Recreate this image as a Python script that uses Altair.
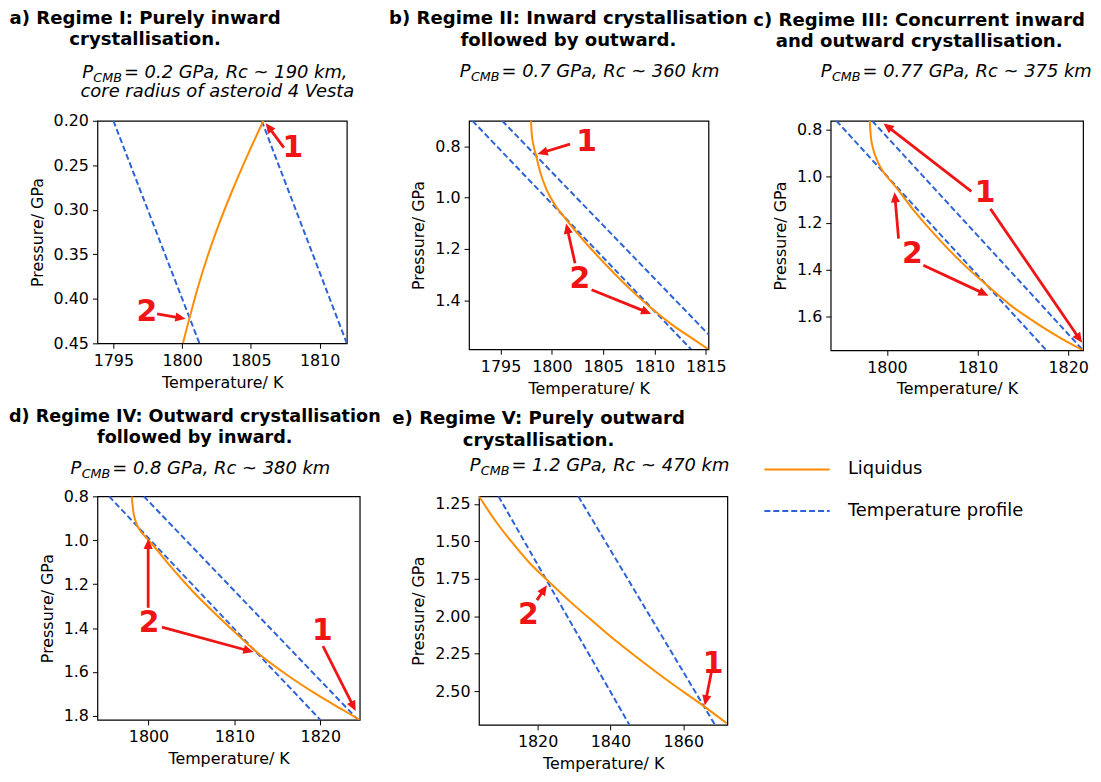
import math
import altair as alt
import pandas as pd

FONT = "DejaVu Sans"
ORANGE = "#ff8c00"
BLUE = "#2d63d8"
RED = "#f01414"

# ------------------------------------------------------------------ data
# a) Regime I
a_liq_T = [1800.06, 1800.52, 1801.12, 1801.84, 1802.66, 1803.60, 1804.68, 1805.91]
a_liq_P = [0.450, 0.4225, 0.3886, 0.3528, 0.3169, 0.2803, 0.2415, 0.200]
a_prof_T = [[1795.0, 1801.26], [1805.79, 1811.98]]
a_prof_P = [[0.20, 0.45], [0.20, 0.45]]
a_arrows = [[1807.40, 0.2302, 1806.08, 0.2027], [1798.18, 0.4169, 1800.25, 0.4225]]
a_labels_T = [1808.06, 1797.44]
a_labels_P = [0.231, 0.4154]
a_labels = ["1", "2"]

# b) Regime II
b_liq_T = [1797.97, 1798.03, 1798.19, 1798.45, 1798.87, 1799.45, 1800.23, 1801.19,
           1803.35, 1805.52, 1807.68, 1809.84, 1811.77, 1813.71, 1815.26]
b_liq_P = [0.700, 0.7458, 0.791, 0.8336, 0.9006, 0.9652, 1.0232, 1.0748,
           1.1786, 1.272, 1.3585, 1.4362, 1.4968, 1.5497, 1.591]
b_prof_T = [[1792.26, 1813.56], [1795.16, 1815.26]]
b_prof_P = [[0.70, 1.591], [0.70, 1.533]]
b_arrows = [[1801.77, 0.791, 1798.61, 0.8297],
            [1802.26, 1.2555, 1801.39, 1.1007],
            [1803.87, 1.3588, 1809.68, 1.453]]
b_labels_T = [1803.39, 1802.74]
b_labels_P = [0.7845, 1.316]
b_labels = ["1", "2"]

# c) Regime III
c_liq_T = [1798.10, 1798.21, 1798.43, 1798.80, 1799.31, 1799.96, 1800.62, 1803.18,
           1805.75, 1808.31, 1810.88, 1813.69, 1816.61, 1819.16, 1821.64]
c_liq_P = [0.763, 0.827, 0.8766, 0.922, 0.9646, 1.0007, 1.0298, 1.1573,
           1.2709, 1.3726, 1.4624, 1.5546, 1.6326, 1.6936, 1.746]
c_prof_T = [[1794.41, 1817.59], [1798.36, 1821.64]]
c_prof_P = [[0.763, 1.746], [0.763, 1.746]]
c_arrows = [[1809.31, 1.0652, 1799.63, 0.7745],
            [1811.42, 1.1404, 1821.53, 1.7135],
            [1801.28, 1.268, 1800.84, 1.0695],
            [1804.01, 1.3816, 1811.20, 1.512]]
c_labels_T = [1810.84, 1802.81]
c_labels_P = [1.0723, 1.3348]
c_labels = ["1", "2"]

# d) Regime IV
d_liq_T = [1798.05, 1798.20, 1798.50, 1799.00, 1799.65, 1800.40, 1802.61, 1805.14,
           1807.86, 1810.19, 1812.45, 1815.64, 1819.53, 1822.65, 1824.59]
d_liq_P = [0.800, 0.860, 0.914, 0.954, 0.985, 1.017, 1.121, 1.232,
           1.338, 1.424, 1.504, 1.600, 1.701, 1.773, 1.818]
d_prof_T = [[1795.40, 1820.0], [1799.45, 1824.40]]
d_prof_P = [[0.80, 1.818], [0.80, 1.818]]
d_arrows = [[1799.96, 1.3076, 1799.96, 0.9939],
            [1801.56, 1.3954, 1812.22, 1.509],
            [1820.31, 1.4818, 1824.12, 1.7773]]
d_labels_T = [1800.08, 1820.23]
d_labels_P = [1.3788, 1.4136]
d_labels = ["2", "1"]

# e) Regime V
e_liq_T = [1803.91, 1808.18, 1812.73, 1817.73, 1822.91, 1829.09, 1835.45, 1841.82,
           1849.09, 1856.36, 1865.91, 1871.90]
e_liq_P = [1.200, 1.356, 1.4996, 1.6432, 1.7646, 1.906, 2.040, 2.171,
           2.309, 2.441, 2.605, 2.714]
e_prof_T = [[1809.27, 1845.2], [1831.18, 1868.7]]
e_prof_P = [[1.20, 2.725], [1.20, 2.725]]
e_arrows = [[1819.82, 1.8927, 1822.55, 1.7933],
            [1867.73, 2.3727, 1865.90, 2.595]]
e_labels_T = [1817.45, 1868.18]
e_labels_P = [1.992, 2.3167]
e_labels = ["2", "1"]

# axes
a_xticks = [1795, 1800, 1805, 1810]
a_yticks = [0.20, 0.25, 0.30, 0.35, 0.40, 0.45]
b_xticks = [1795, 1800, 1805, 1810, 1815]
b_yticks = [0.8, 1.0, 1.2, 1.4]
c_xticks = [1800, 1810, 1820]
c_yticks = [0.8, 1.0, 1.2, 1.4, 1.6]
d_xticks = [1800, 1810, 1820]
d_yticks = [0.8, 1.0, 1.2, 1.4, 1.6, 1.8]
e_xticks = [1820, 1840, 1860]
e_yticks = [1.25, 1.50, 1.75, 2.00, 2.25, 2.50]

# texts
a_title = ["a) Regime I: Purely inward", "crystallisation."]
b_title = ["b) Regime II: Inward crystallisation", "followed by outward."]
c_title = ["c) Regime III: Concurrent inward", "and outward crystallisation."]
d_title = ["d) Regime IV: Outward crystallisation", "followed by inward."]
e_title = ["e) Regime V: Purely outward", "crystallisation."]
a_sub = ["= 0.2 GPa, Rc ~ 190 km,", "core radius of asteroid 4 Vesta"]
b_sub = ["= 0.7 GPa, Rc ~ 360 km"]
c_sub = ["= 0.77 GPa, Rc ~ 375 km"]
d_sub = ["= 0.8 GPa, Rc ~ 380 km"]
e_sub = ["= 1.2 GPa, Rc ~ 470 km"]
legend_names = ["Liquidus", "Temperature profile"]

# ------------------------------------------------------------------ layout
LAYOUT = {
    "a": dict(org=(97, 118), w=251, h=224, tdom=(1793.84, 1811.98), pdom=(0.20, 0.45), yfmt=".2f",
              title_cx=145, title_size=18.2, title_base=(21, 42), sub_x=(81.7, 80), sub_base=(75, 94)),
    "b": dict(org=(471, 118), w=241, h=230, tdom=(1791.93, 1815.26), pdom=(0.70, 1.591), yfmt=".1f",
              title_cx=571, title_size=18.2, title_base=(21, 42.5), sub_x=(461.7,), sub_base=(74,)),
    "c": dict(org=(835, 118), w=254, h=231, tdom=(1793.79, 1821.64), pdom=(0.763, 1.746), yfmt=".1f",
              title_cx=924, title_size=18.2, title_base=(23, 44), sub_x=(825,), sub_base=(74,)),
    "d": dict(org=(97, 496), w=264, h=225, tdom=(1794.05, 1824.59), pdom=(0.80, 1.818), yfmt=".1f",
              title_cx=195, title_size=17.7, title_base=(421.5, 442.7), sub_x=(70,), sub_base=(474,)),
    "e": dict(org=(481, 496), w=250, h=230, tdom=(1803.9, 1872.1), pdom=(1.20, 2.725), yfmt=".2f",
              title_cx=541, title_size=18.2, title_base=(422.7, 445), sub_x=(471.7,), sub_base=(470.7,)),
}
ANCHOR = (5, 2)          # page position of the top-left layout anchor
ROW1_SPACING = 123
ROW2_SPACING = 120
ROW_GAP = 147
ROW1_HEIGHT = 231
SUB_SIZE = 18
SUBSCRIPT_SIZE = 12.8
LEGEND_SIZE = 18
HEAD_PATH = "M0,0 L0.45,1 L-0.45,1 Z"


def txt(t, x, y, size, weight="normal", style="normal", align="left", baseline="alphabetic", color="black"):
    return alt.Chart(pd.DataFrame({"t": [t]})).mark_text(
        font=FONT, fontSize=size, fontWeight=weight, fontStyle=style, align=align,
        baseline=baseline, color=color,
    ).encode(text="t:N", x=alt.value(x), y=alt.value(y))


def make_panel(key, liq_T, liq_P, prof_T, prof_P, arrows, lab_T, lab_P, labs,
               xticks, yticks, title, sub, extra=None):
    L = LAYOUT[key]
    ox, oy = L["org"]
    W, H = L["w"], L["h"]
    t0, t1 = L["tdom"]
    p0, p1 = L["pdom"]
    sx = W / (t1 - t0)
    sy = H / (p1 - p0)
    xs = alt.Scale(domain=[t0, t1], nice=False, zero=False)
    ys = alt.Scale(domain=[p0, p1], nice=False, zero=False, reverse=True)
    X = alt.X("T:Q", scale=xs, axis=alt.Axis(values=xticks, format="d", title="Temperature/ K"))
    Y = alt.Y("P:Q", scale=ys, axis=alt.Axis(values=yticks, format=L["yfmt"], title="Pressure/ GPa"))

    liq = pd.DataFrame({"T": liq_T, "P": liq_P})
    rows = []
    for i, (tt, pp) in enumerate(zip(prof_T, prof_P)):
        for a, b in zip(tt, pp):
            rows.append({"T": a, "P": b, "line": i})
    prof = pd.DataFrame(rows)

    arr_rows, head_rows = [], []
    for (ta, pa, tb, pb) in arrows:
        dx = (tb - ta) * sx
        dy = (pb - pa) * sy
        ln = math.hypot(dx, dy)
        ang = math.degrees(math.atan2(dx, -dy)) % 360
        back = 6.0
        te = tb - dx / ln * back / sx
        pe = pb - dy / ln * back / sy
        arr_rows.append({"T": ta, "P": pa, "T2": te, "P2": pe})
        head_rows.append({"T": tb, "P": pb, "ang": ang})
    arr = pd.DataFrame(arr_rows)
    heads = pd.DataFrame(head_rows)
    labdf = pd.DataFrame({"T": lab_T, "P": lab_P, "lab": labs})

    layers = [
        alt.Chart(prof).mark_line(color=BLUE, strokeWidth=2, strokeDash=[6, 3], clip=True).encode(
            x=X, y=Y, detail="line:N"),
        alt.Chart(liq).mark_line(color=ORANGE, strokeWidth=2, interpolate="monotone", clip=True).encode(
            x=X, y=Y),
        alt.Chart(arr).mark_rule(color=RED, strokeWidth=2.8).encode(
            x=X, y=Y, x2="T2:Q", y2="P2:Q"),
        alt.Chart(heads).mark_point(shape=HEAD_PATH, filled=True, color=RED, size=420, opacity=1,
                                    strokeWidth=0).encode(
            x=X, y=Y, angle=alt.Angle("ang:Q", scale=None)),
        alt.Chart(labdf).mark_text(color=RED, font=FONT, fontSize=30, fontWeight="bold",
                                   baseline="middle", align="center").encode(x=X, y=Y, text="lab:N"),
    ]
    for line, base in zip(title, L["title_base"]):
        layers.append(txt(line, L["title_cx"] - ox, base - oy, L["title_size"], weight="bold",
                          align="center"))
    for j, (line, sxp, base) in enumerate(zip(sub, L["sub_x"], L["sub_base"])):
        if j == 0:
            layers.append(txt("P", sxp - ox, base - oy, SUB_SIZE, style="italic"))
            layers.append(txt("CMB", sxp - ox + 11.2, base - oy + 4, SUBSCRIPT_SIZE, style="italic"))
            layers.append(txt(line, sxp - ox + 42.0, base - oy, SUB_SIZE, style="italic"))
        else:
            layers.append(txt(line, sxp - ox, base - oy, SUB_SIZE, style="italic"))
    if extra:
        layers.extend(extra(ox, oy))
    return alt.layer(*layers).properties(width=W, height=H)


def anchor_layers(ox, oy):
    # white hairline fixing the top-left corner of the page layout
    ax, ay = ANCHOR
    return [alt.Chart(pd.DataFrame({"k": [0]})).mark_rule(color="white", strokeWidth=0.5).encode(
        x=alt.value(ax - ox), x2=alt.value(ax - ox + 1), y=alt.value(ay - oy))]


def legend_layers(ox, oy):
    items = []
    ys_ = [469, 510.7]
    cols = [ORANGE, BLUE]
    dashes = [None, [6, 3]]
    for name, yy, col, dash in zip(legend_names, ys_, cols, dashes):
        kw = dict(color=col, strokeWidth=2)
        if dash:
            kw["strokeDash"] = dash
        items.append(alt.Chart(pd.DataFrame({"k": [0]})).mark_rule(**kw).encode(
            x=alt.value(768.3 - ox), x2=alt.value(834 - ox), y=alt.value(yy - oy)))
        items.append(txt(name, 852.3 - ox, yy - oy, LEGEND_SIZE, baseline="middle"))
    return items


pa = make_panel("a", a_liq_T, a_liq_P, a_prof_T, a_prof_P, a_arrows, a_labels_T, a_labels_P, a_labels,
                a_xticks, a_yticks, a_title, a_sub, extra=anchor_layers)
pb = make_panel("b", b_liq_T, b_liq_P, b_prof_T, b_prof_P, b_arrows, b_labels_T, b_labels_P, b_labels,
                b_xticks, b_yticks, b_title, b_sub)
pc = make_panel("c", c_liq_T, c_liq_P, c_prof_T, c_prof_P, c_arrows, c_labels_T, c_labels_P, c_labels,
                c_xticks, c_yticks, c_title, c_sub)
pd_ = make_panel("d", d_liq_T, d_liq_P, d_prof_T, d_prof_P, d_arrows, d_labels_T, d_labels_P, d_labels,
                 d_xticks, d_yticks, d_title, d_sub)
pe = make_panel("e", e_liq_T, e_liq_P, e_prof_T, e_prof_P, e_arrows, e_labels_T, e_labels_P, e_labels,
                e_xticks, e_yticks, e_title, e_sub, extra=legend_layers)

row1 = alt.hconcat(pa, pb, pc, spacing=ROW1_SPACING, bounds="flush")
row2 = alt.hconcat(pd_, pe, spacing=ROW2_SPACING, bounds="flush")
# with flush bounds the nested row counts with no height, so the row height is part of the gap
chart = alt.vconcat(row1, row2, spacing=ROW1_HEIGHT + ROW_GAP, bounds="flush").properties(
    padding={"left": ANCHOR[0] - 8, "top": ANCHOR[1] - 8, "right": 0, "bottom": 4}
).configure_axis(
    labelFont=FONT, titleFont=FONT, labelFontSize=16, titleFontSize=16, titleFontWeight="normal",
    labelColor="black", titleColor="black", tickColor="black", tickSize=5, tickWidth=1,
    domain=False, grid=False, labelPadding=4, titlePadding=6,
).configure_axisY(titlePadding=8).configure_view(stroke="black", strokeWidth=1.2)

chart.save("out.html", embed_options={"renderer": "svg", "actions": False})
